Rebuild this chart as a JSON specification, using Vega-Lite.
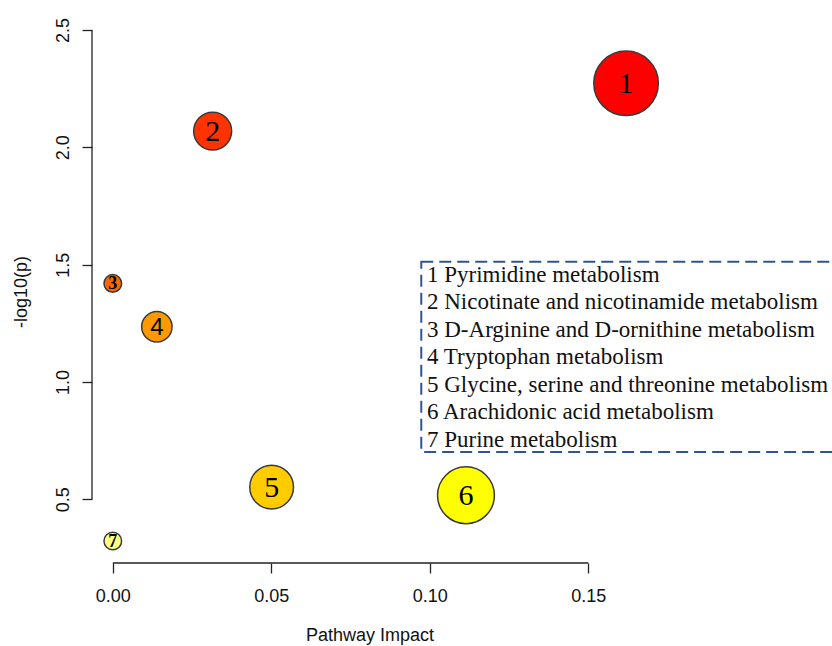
{
  "$schema": "https://vega.github.io/schema/vega-lite/v6.json",
  "width": 555,
  "height": 543,
  "autosize": "none",
  "padding": {"left": 92, "top": 20, "right": 185, "bottom": 83},
  "background": "white",
  "config": {
    "view": {"stroke": null},
    "axis": {
      "grid": false,
      "domain": false,
      "labelFont": "Liberation Sans",
      "titleFont": "Liberation Sans",
      "labelColor": "#111",
      "titleColor": "#111",
      "tickColor": "#222",
      "tickWidth": 1.3,
      "tickSize": 10,
      "titleFontWeight": "normal",
      "labelFontSize": 18,
      "titleFontSize": 18
    }
  },
  "data": {
    "values": [
      {"id": 1, "entry": "1 Pyrimidine metabolism", "impact": 0.1619, "logp": 2.273},
      {"id": 2, "entry": "2 Nicotinate and nicotinamide metabolism", "impact": 0.0315, "logp": 2.069},
      {"id": 3, "entry": "3 D-Arginine and D-ornithine metabolism", "impact": 0.0, "logp": 1.42},
      {"id": 4, "entry": "4 Tryptophan metabolism", "impact": 0.0139, "logp": 1.235},
      {"id": 5, "entry": "5 Glycine, serine and threonine metabolism", "impact": 0.0501, "logp": 0.552},
      {"id": 6, "entry": "6 Arachidonic acid metabolism", "impact": 0.1114, "logp": 0.517},
      {"id": 7, "entry": "7 Purine metabolism", "impact": 0.0, "logp": 0.322}
    ]
  },
  "layer": [
    {
      "data": {"values": [{}]},
      "mark": {"type": "rule", "color": "#222", "strokeWidth": 1.3},
      "encoding": {
        "x": {"datum": -0.00656, "type": "quantitative"},
        "y": {"datum": 0.5, "type": "quantitative"},
        "y2": {"datum": 2.5}
      }
    },
    {
      "data": {"values": [{}]},
      "mark": {"type": "rule", "color": "#222", "strokeWidth": 1.3},
      "encoding": {
        "y": {"datum": 0.2284, "type": "quantitative"},
        "x": {"datum": 0, "type": "quantitative"},
        "x2": {"datum": 0.15}
      }
    },
    {
      "data": {"values": [{}]},
      "mark": {"type": "rect", "fillOpacity": 0, "fill": "white", "stroke": "#2F5597", "strokeWidth": 2, "strokeDash": [12, 6]},
      "encoding": {
        "x": {"datum": 0.0973, "type": "quantitative"},
        "x2": {"datum": 0.24},
        "y": {"datum": 1.512, "type": "quantitative"},
        "y2": {"datum": 0.702}
      }
    },
    {
      "mark": {"type": "point", "filled": true, "opacity": 1, "stroke": "#3a3a3a", "strokeWidth": 1.5},
      "encoding": {
        "x": {
          "field": "impact", "type": "quantitative",
          "scale": {"domain": [-0.00656, 0.1685], "nice": false, "zero": false},
          "axis": {"values": [0, 0.05, 0.1, 0.15], "format": ".2f", "title": "Pathway Impact", "labelPadding": 14, "titlePadding": 21}
        },
        "y": {
          "field": "logp", "type": "quantitative",
          "scale": {"domain": [0.2284, 2.5426], "nice": false, "zero": false},
          "axis": {"values": [0.5, 1, 1.5, 2, 2.5], "format": ".1f", "title": "-log10(p)", "labelAngle": -90, "labelAlign": "center", "labelBaseline": "bottom", "labelPadding": 10, "titlePadding": 24}
        },
        "color": {
          "field": "id", "type": "nominal",
          "scale": {"domain": [1, 2, 3, 4, 5, 6, 7], "range": ["#FF0000", "#FF3300", "#FF6600", "#FF9900", "#FFCC00", "#FFFF00", "#FFFF80"]},
          "legend": null
        },
        "size": {
          "field": "impact", "type": "quantitative",
          "scale": {"type": "pow", "exponent": 0.75, "domain": [0, 0.1619], "range": [310, 4173]},
          "legend": null
        },
        "shape": {
          "field": "entry", "type": "nominal",
          "scale": {"range": ["circle"]},
          "legend": {
            "title": null,
            "orient": "none",
            "legendX": 329,
            "legendY": 241,
            "symbolSize": 1,
            "symbolOpacity": 0,
            "symbolStrokeWidth": 0,
            "labelFont": "Liberation Serif",
            "labelFontSize": 23,
            "labelColor": "#111",
            "labelLimit": 0,
            "labelOffset": -19,
            "rowPadding": 3.5,
            "padding": 2
          }
        }
      }
    },
    {
      "transform": [{"filter": "datum.id == 1 || datum.id == 2 || datum.id == 5 || datum.id == 6"}],
      "mark": {"type": "text", "font": "Liberation Serif", "fontSize": 30, "align": "center", "baseline": "middle", "color": "#000", "dy": 1},
      "encoding": {
        "x": {"field": "impact", "type": "quantitative"},
        "y": {"field": "logp", "type": "quantitative"},
        "text": {"field": "id"}
      }
    },
    {
      "transform": [{"filter": "datum.id == 4"}],
      "mark": {"type": "text", "font": "Liberation Sans", "fontSize": 24, "align": "center", "baseline": "middle", "color": "#000", "dy": 1},
      "encoding": {
        "x": {"field": "impact", "type": "quantitative"},
        "y": {"field": "logp", "type": "quantitative"},
        "text": {"field": "id"}
      }
    },
    {
      "transform": [{"filter": "datum.id == 3 || datum.id == 7"}],
      "mark": {"type": "text", "font": "Liberation Serif", "fontSize": 18, "fontWeight": "bold", "align": "center", "baseline": "middle", "color": "#000", "dy": 1},
      "encoding": {
        "x": {"field": "impact", "type": "quantitative"},
        "y": {"field": "logp", "type": "quantitative"},
        "text": {"field": "id"}
      }
    }
  ]
}
